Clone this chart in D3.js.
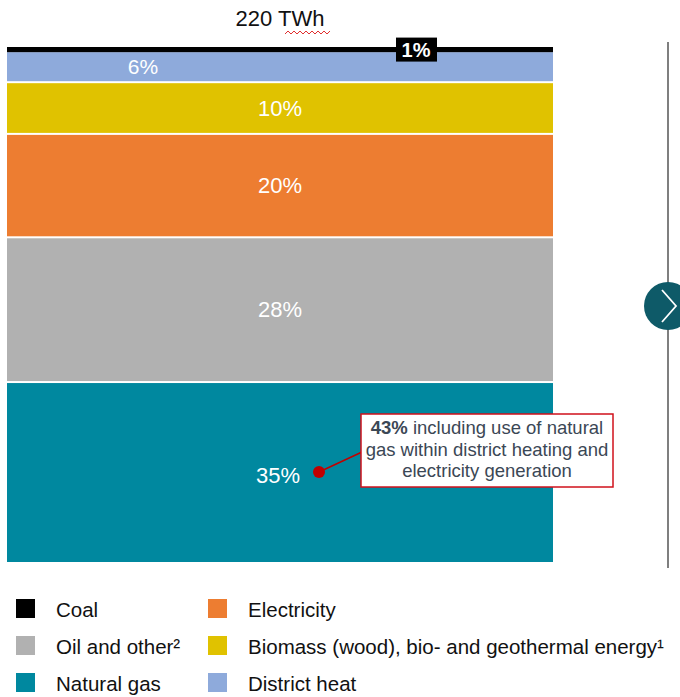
<!DOCTYPE html>
<html>
<head>
<meta charset="utf-8">
<script src="https://cdn.jsdelivr.net/npm/d3@7"></script>
<style>
  body { margin: 0; background: #fff; }
  svg { font-family: "Liberation Sans", Arial, sans-serif; }
</style>
</head>
<body>
<div id="chart"></div>
<script>
'use strict';

// shares of final energy, bottom to top
var categories = ["Natural gas", "Oil and other", "Electricity", "Biomass", "District heat", "Coal"];
var shares = [35, 28, 20, 10, 6, 1];
var shareLabels = ["35%", "28%", "20%", "10%", "6%", "1%"];
var colors = ["#00889f", "#b1b1b1", "#ed7d31", "#e0c200", "#8eaadb", "#000000"];
var totalLabel = "220 TWh";

// legend order (two columns)
var legendNames = ["Coal", "Oil and other²", "Natural gas", "Electricity", "Biomass (wood), bio- and geothermal energy¹", "District heat"];
var legendColors = ["#000000", "#b1b1b1", "#00889f", "#ed7d31", "#e0c200", "#8eaadb"];

var width = 680, height = 697;

var svg = d3.select("#chart")
  .append("svg")
    .attr("width", width)
    .attr("height", height);

// stack the segments
var data = categories.map(function (c, i) { return {name: c, value: shares[i], label: shareLabels[i], color: colors[i]}; });
var acc = 0;
data.forEach(function (d) { d.y0 = acc; acc += d.value; d.y1 = acc; });

var y = d3.scaleLinear()
  .domain([0, 100])
  .range([564, 47]);

var x = d3.scaleBand()
  .domain(["total"])
  .range([7, 553])
  .padding(0);

svg.append("g")
  .selectAll("rect")
  .data(data)
  .enter()
  .append("rect")
    .attr("x", x("total"))
    .attr("width", x.bandwidth())
    .attr("y", function (d) { return y(d.y1); })
    .attr("height", function (d) { return Math.max(0, y(d.y0) - y(d.y1) - (d.name == "Coal" ? 0 : 2)); })
    .attr("fill", function (d) { return d.color; });

// segment labels
var labelX = { "Natural gas": 278, "Oil and other": 280, "Electricity": 280, "Biomass": 280, "District heat": 143 };
svg.append("g")
  .selectAll("text")
  .data(data.filter(function (d) { return d.name != "Coal"; }))
  .enter()
  .append("text")
    .attr("x", function (d) { return labelX[d.name]; })
    .attr("y", function (d) { return d.name == "Natural gas" ? 475 : (y(d.y0) + y(d.y1)) / 2 - 1; })
    .attr("text-anchor", "middle")
    .attr("dominant-baseline", "central")
    .attr("fill", "#fff")
    .style("font-size", function (d) { return d.name == "District heat" ? "21px" : "22px"; })
    .text(function (d) { return d.label; });

// coal label box
var coal = data[data.length - 1];
var coalY = (y(coal.y0) + y(coal.y1)) / 2;
svg.append("rect")
  .attr("x", 396).attr("y", coalY - 12)
  .attr("width", 41).attr("height", 24)
  .attr("fill", "#000");
svg.append("text")
  .attr("x", 416).attr("y", coalY)
  .attr("text-anchor", "middle")
  .attr("dominant-baseline", "central")
  .attr("fill", "#fff")
  .style("font-size", "20px")
  .style("font-weight", "bold")
  .text(coal.label);

// total label
svg.append("text")
  .attr("x", 280).attr("y", 26)
  .attr("text-anchor", "middle")
  .attr("fill", "#111")
  .style("font-size", "22px")
  .text(totalLabel);
// spell-check squiggle under TWh
var sq = d3.range(285, 332, 3).map(function (px, i) { return [px, i % 2 ? 31 : 34]; });
svg.append("path")
  .attr("d", d3.line()(sq))
  .attr("fill", "none")
  .attr("stroke", "#e03030")
  .attr("stroke-width", 1);

// annotation
svg.append("line")
  .attr("x1", 319).attr("y1", 472)
  .attr("x2", 362).attr("y2", 452)
  .attr("stroke", "#c00000")
  .attr("stroke-width", 1.5);
svg.append("circle")
  .attr("cx", 319).attr("cy", 472).attr("r", 6)
  .attr("fill", "#c00000");
svg.append("rect")
  .attr("x", 361).attr("y", 414)
  .attr("width", 252).attr("height", 73)
  .attr("fill", "#fff")
  .attr("stroke", "#d0111b")
  .attr("stroke-width", 1.5);
var ann = svg.append("text")
  .attr("text-anchor", "middle")
  .attr("fill", "#3b4755")
  .style("font-size", "18.5px");
var l1 = ann.append("tspan").attr("x", 487).attr("y", 434);
l1.append("tspan").style("font-weight", "bold").text("43%");
l1.append("tspan").text(" including  use of natural");
ann.append("tspan").attr("x", 487).attr("y", 456).text("gas within district heating and");
ann.append("tspan").attr("x", 487).attr("y", 477).text("electricity generation");

// divider with arrow
svg.append("line")
  .attr("x1", 668).attr("y1", 42)
  .attr("x2", 668).attr("y2", 568)
  .attr("stroke", "#7f7f7f")
  .attr("stroke-width", 2);
svg.append("circle")
  .attr("cx", 668).attr("cy", 306).attr("r", 24)
  .attr("fill", "#0e5a68");
svg.append("path")
  .attr("d", "M662,290 L676,306 L662,322")
  .attr("fill", "none")
  .attr("stroke", "#fff")
  .attr("stroke-width", 1.8);

// legend
var legend = svg.append("g")
  .selectAll("g")
  .data(legendNames)
  .enter()
  .append("g")
    .attr("transform", function (d, i) {
      return "translate(" + (i < 3 ? 16 : 208) + "," + (599 + (i % 3) * 37) + ")";
    });
legend.append("rect")
  .attr("width", 19).attr("height", 19)
  .attr("fill", function (d, i) { return legendColors[i]; });
legend.append("text")
  .attr("x", 40).attr("y", 10)
  .attr("dominant-baseline", "central")
  .attr("fill", "#111")
  .style("font-size", "20.5px")
  .text(function (d) { return d; });
</script>
</body>
</html>
